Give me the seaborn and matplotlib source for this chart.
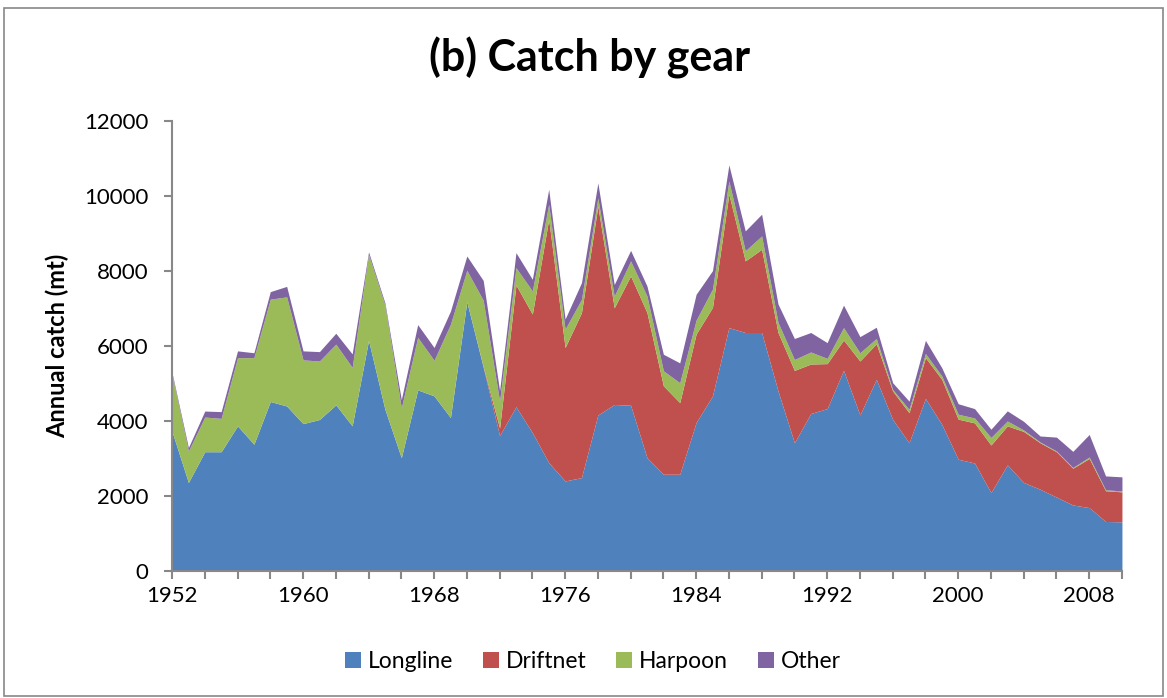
import numpy as np
import matplotlib
matplotlib.use("Agg")
import matplotlib.pyplot as plt
import seaborn as sns
from matplotlib.patches import Rectangle

# annual catch by gear (mt), 1952-2010
years = list(range(1952, 2011))
longline = [3720, 2360, 3180, 3180, 3870, 3380, 4520, 4400, 3930, 4040,
            4430, 3870, 6150, 4310, 3020, 4830, 4670, 4090, 7180, 5430,
            3610, 4380, 3690, 2890, 2400, 2490, 4160, 4440, 4420, 3020,
            2580, 2580, 3960, 4670, 6490, 6360, 6360, 4800, 3420, 4200,
            4330, 5350, 4160, 5110, 4040, 3420, 4600, 3910, 2980, 2880,
            2090, 2830, 2360, 2180, 1970, 1760, 1690, 1320, 1310]
driftnet = [0, 0, 0, 0, 0, 0, 0, 0, 0, 0,
            0, 0, 0, 0, 0, 0, 0, 0, 0, 20,
            200, 3250, 3160, 6490, 3560, 4400, 5570, 2580, 3450, 3870,
            2360, 1910, 2360, 2360, 3560, 1910, 2220, 1560, 1930, 1320,
            1200, 810, 1440, 950, 760, 800, 1090, 1200, 1070, 1070,
            1270, 1040, 1360, 1240, 1210, 980, 1310, 820, 800]
harpoon = [1520, 840, 925, 890, 1820, 2310, 2730, 2910, 1700, 1560,
           1620, 1560, 2290, 2780, 1330, 1400, 950, 2490, 840, 1770,
           720, 460, 620, 400, 490, 355, 220, 310, 400, 440,
           400, 530, 370, 490, 350, 270, 355, 270, 290, 320,
           140, 330, 220, 140, 40, 90, 110, 90, 130, 130,
           200, 130, 40, 20, 20, 20, 40, 25, 25]
other = [50, 90, 160, 180, 180, 130, 200, 280, 240, 250,
         290, 360, 70, 60, 220, 340, 340, 350, 380, 530,
         280, 400, 310, 400, 270, 445, 400, 310, 280, 270,
         440, 530, 690, 490, 430, 530, 580, 490, 560, 520,
         420, 600, 430, 300, 180, 220, 350, 220, 280, 250,
         220, 270, 230, 160, 370, 430, 600, 370, 375]
gears = ["Longline", "Driftnet", "Harpoon", "Other"]

sns.set_theme(style="white")
plt.rcParams["font.family"] = ["Lato", "DejaVu Sans"]
plt.rcParams["text.color"] = "black"
plt.rcParams["axes.labelcolor"] = "black"
colors = sns.color_palette(["#4F81BD", "#C0504D", "#9BBB59", "#8064A2"])

fig = plt.figure(figsize=(11.67, 6.98), dpi=100)
ax = fig.add_axes([0.1474, 0.182, 0.814, 0.6446])

ax.stackplot(years, longline, driftnet, harpoon, other,
             labels=gears, colors=colors, linewidth=0)

ax.set_xlim(1952, 2010)
ax.set_ylim(0, 12000)
ax.set_yticks(np.arange(0, 12001, 2000))
ax.set_xticks(range(1952, 2011, 8))
ax.set_xticks(range(1952, 2011, 2), minor=True)
ax.tick_params(axis="both", which="major", labelsize=16, colors="#888888",
               labelcolor="black", direction="out", length=6, width=1.5,
               left=True, bottom=True)
ax.tick_params(axis="y", which="major", pad=11)
ax.tick_params(axis="x", which="major", pad=5)
ax.tick_params(axis="x", which="minor", direction="out", length=6, width=1.5,
               colors="#888888", bottom=True)
for side in ["top", "right"]:
    ax.spines[side].set_visible(False)
for side in ["left", "bottom"]:
    ax.spines[side].set_color("#888888")
    ax.spines[side].set_linewidth(1.5)

ax.set_ylabel("Annual catch (mt)", fontsize=17, fontweight="bold")
ax.yaxis.set_label_coords(-0.108, 0.5)
fig.text(0.5056, 0.917, "(b) Catch by gear", ha="center", va="center",
         fontsize=31, fontweight="bold")

fig.legend(loc="center", bbox_to_anchor=(0.508, 0.052), ncol=4, frameon=False,
           fontsize=16.5, handlelength=0.7, handleheight=0.7, columnspacing=1.3,
           handletextpad=0.3)

fig.patches.append(Rectangle((0.003, 0.003), 0.994, 0.985, transform=fig.transFigure,
                             fill=False, edgecolor="#888888", linewidth=1.2))

fig.savefig("out.png", dpi=100)
